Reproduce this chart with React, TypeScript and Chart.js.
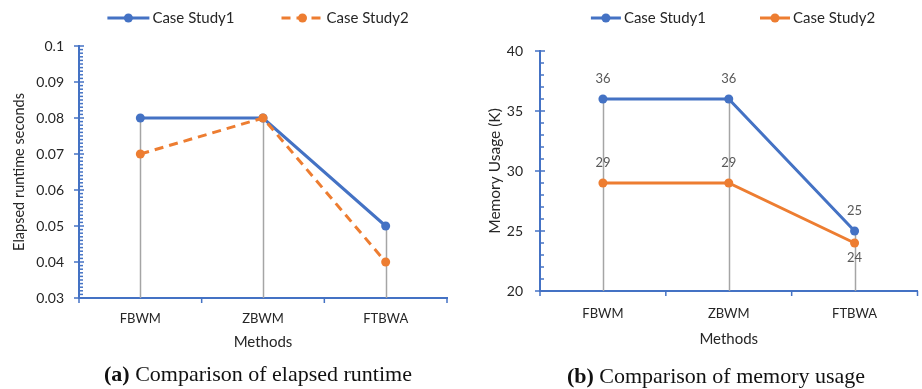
import React, { useEffect, useRef } from 'react';
import { Chart, registerables } from 'chart.js';

Chart.register(...registerables);
Chart.defaults.font.family = 'Lato';

// ---------- data ----------
const methods = ['FBWM', 'ZBWM', 'FTBWA'];
const seriesNames = ['Case Study1', 'Case Study2'];

const runtimeCase1 = [0.08, 0.08, 0.05];
const runtimeCase2 = [0.07, 0.08, 0.04];
const runtimeTicks = [0.03, 0.04, 0.05, 0.06, 0.07, 0.08, 0.09, 0.1];

const memoryCase1 = [36, 36, 25];
const memoryCase2 = [29, 29, 24];
const memoryTicks = [20, 25, 30, 35, 40];
const memoryLabelPos1 = ['top', 'top', 'top'];
const memoryLabelPos2 = ['top', 'top', 'bottom'];

const BLUE = '#4472C4';
const ORANGE = '#ED7D31';
const AXIS = '#4472C4';
const DROP = '#A5A5A5';
const TEXT = '#262626';

type Cfg = {
  width: number;
  height: number;
  series: { name: string; data: number[]; color: string; dash: number[] }[];
  ticks: number[];
  minorPerMajor: number;
  fmt: (v: number) => string;
  padding: { left: number; top: number; right: number };
  yWidth: number;
  xHeight: number;
  yTickPad: number;
  xTickPad: number;
  yTitle: string;
  yTitleX: number;
  yTitleSize: number;
  xTitle: string;
  xTitleY: number;
  legend: { centerX: number; y: number; lineLen: number; gap: number };
  dataLabels?: string[][];
};

function makePlugin(cfg: Cfg) {
  return {
    id: 'excelLook',
    beforeDatasetsDraw(chart: any) {
      const ctx = chart.ctx;
      const ca = chart.chartArea;
      ctx.save();
      ctx.strokeStyle = DROP;
      ctx.lineWidth = 1.5;
      const metas = cfg.series.map((_, i) => chart.getDatasetMeta(i));
      for (let j = 0; j < methods.length; j++) {
        let top = Infinity;
        let x = 0;
        metas.forEach((m: any) => {
          const p = m.data[j];
          if (p.y < top) top = p.y;
          x = p.x;
        });
        ctx.beginPath();
        ctx.moveTo(Math.round(x) + 0.5, top);
        ctx.lineTo(Math.round(x) + 0.5, ca.bottom);
        ctx.stroke();
      }
      ctx.restore();
    },
    afterDraw(chart: any) {
      const ctx = chart.ctx;
      const ca = chart.chartArea;
      const xs = chart.scales.x;
      const ys = chart.scales.y;
      ctx.save();
      // y ticks (major + minor)
      ctx.strokeStyle = AXIS;
      ctx.lineWidth = 1.5;
      const t = cfg.ticks;
      for (let a = 0; a < t.length; a++) {
        const yMaj = ys.getPixelForValue(t[a]);
        ctx.beginPath();
        ctx.moveTo(ca.left - 5, yMaj);
        ctx.lineTo(ca.left + 5, yMaj);
        ctx.stroke();
        if (a < t.length - 1) {
          for (let k = 1; k < cfg.minorPerMajor; k++) {
            const v = t[a] + ((t[a + 1] - t[a]) * k) / cfg.minorPerMajor;
            const y = ys.getPixelForValue(v);
            ctx.beginPath();
            ctx.moveTo(ca.left, y);
            ctx.lineTo(ca.left + 4, y);
            ctx.stroke();
          }
        }
      }
      // x ticks at category boundaries
      const n = methods.length;
      for (let k = 0; k <= n; k++) {
        const x = xs.left + (k * (xs.right - xs.left)) / n;
        ctx.beginPath();
        ctx.moveTo(x, ca.bottom);
        ctx.lineTo(x, ca.bottom + 5);
        ctx.stroke();
      }
      // axis titles
      ctx.fillStyle = TEXT;
      ctx.font = '15px Lato';
      ctx.textAlign = 'center';
      ctx.textBaseline = 'middle';
      ctx.fillText(cfg.xTitle, (ca.left + ca.right) / 2, cfg.xTitleY);
      ctx.save();
      ctx.font = cfg.yTitleSize + 'px Lato';
      ctx.translate(cfg.yTitleX, (ca.top + ca.bottom) / 2);
      ctx.rotate(-Math.PI / 2);
      ctx.fillText(cfg.yTitle, 0, 0);
      ctx.restore();
      // legend
      ctx.font = '15px Lato';
      const L = cfg.legend;
      const widths = cfg.series.map((s) => ctx.measureText(s.name).width);
      const total =
        widths.reduce((s, w) => s + w + L.lineLen + 3, 0) + L.gap * (cfg.series.length - 1);
      let x0 = L.centerX - total / 2;
      cfg.series.forEach((s, i) => {
        ctx.strokeStyle = s.color;
        ctx.fillStyle = s.color;
        ctx.lineWidth = 3;
        ctx.setLineDash(s.dash);
        ctx.beginPath();
        ctx.moveTo(x0, L.y);
        ctx.lineTo(x0 + L.lineLen, L.y);
        ctx.stroke();
        ctx.setLineDash([]);
        ctx.beginPath();
        ctx.arc(x0 + L.lineLen / 2, L.y, 4.5, 0, Math.PI * 2);
        ctx.fill();
        ctx.fillStyle = TEXT;
        ctx.textAlign = 'left';
        ctx.fillText(s.name, x0 + L.lineLen + 3, L.y);
        x0 += L.lineLen + 3 + widths[i] + L.gap;
      });
      // data labels
      if (cfg.dataLabels) {
        ctx.font = '13px Lato';
        ctx.fillStyle = '#595959';
        ctx.textAlign = 'center';
        cfg.series.forEach((s, i) => {
          const meta = chart.getDatasetMeta(i);
          s.data.forEach((v, j) => {
            const p = meta.data[j];
            const pos = cfg.dataLabels![i][j];
            const y = pos === 'top' ? p.y - 20 : p.y + 15;
            ctx.fillText(String(v), p.x, y);
          });
        });
      }
      ctx.restore();
    },
  };
}

function LineChart({ cfg }: { cfg: Cfg }) {
  const ref = useRef<HTMLCanvasElement | null>(null);
  useEffect(() => {
    if (!ref.current) return;
    const chart = new Chart(ref.current, {
      type: 'line',
      data: {
        labels: methods,
        datasets: cfg.series.map((s, i) => ({
          label: s.name,
          data: s.data,
          borderColor: s.color,
          backgroundColor: s.color,
          borderWidth: 3,
          borderDash: s.dash,
          pointRadius: 4.5,
          pointBorderWidth: 0,
          pointBackgroundColor: s.color,
          tension: 0,
          clip: false as any,
          order: cfg.series.length - i,
        })),
      },
      options: {
        responsive: false,
        animation: false,
        devicePixelRatio: 1,
        layout: { padding: { left: cfg.padding.left, top: cfg.padding.top, right: cfg.padding.right, bottom: 0 } },
        plugins: { legend: { display: false }, tooltip: { enabled: false } },
        scales: {
          x: {
            offset: true,
            grid: { display: false, drawTicks: false },
            border: { display: true, color: AXIS, width: 2 },
            ticks: { color: TEXT, font: { size: 13 }, padding: cfg.xTickPad, maxRotation: 0 },
            afterFit: (s: any) => {
              s.height = cfg.xHeight;
            },
          },
          y: {
            min: cfg.ticks[0],
            max: cfg.ticks[cfg.ticks.length - 1],
            afterBuildTicks: (s: any) => {
              s.ticks = cfg.ticks.map((v) => ({ value: v }));
            },
            grid: { display: false, drawTicks: false },
            border: { display: true, color: AXIS, width: 2 },
            ticks: {
              color: TEXT,
              font: { size: 14 },
              padding: cfg.yTickPad,
              callback: (v: any) => cfg.fmt(Number(v)),
            },
            afterFit: (s: any) => {
              s.width = cfg.yWidth;
            },
          },
        },
      },
      plugins: [makePlugin(cfg)],
    });
    return () => chart.destroy();
  }, [cfg]);
  return <canvas ref={ref} width={cfg.width} height={cfg.height} style={{ display: 'block' }} />;
}

const runtimeCfg: Cfg = {
  width: 460,
  height: 389,
  series: [
    { name: seriesNames[0], data: runtimeCase1, color: BLUE, dash: [] },
    { name: seriesNames[1], data: runtimeCase2, color: ORANGE, dash: [9, 6] },
  ],
  ticks: runtimeTicks,
  minorPerMajor: 10,
  fmt: (v) => String(Number(v.toFixed(2))),
  padding: { left: 0, top: 46, right: 13 },
  yWidth: 79,
  xHeight: 389 - 298,
  yTickPad: 15,
  xTickPad: 13,
  yTitle: 'Elapsed runtime seconds',
  yTitleX: 19,
  yTitleSize: 14.5,
  xTitle: 'Methods',
  xTitleY: 342,
  legend: { centerX: 258, y: 18, lineLen: 42, gap: 47 },
};

const memoryCfg: Cfg = {
  width: 462,
  height: 389,
  series: [
    { name: seriesNames[0], data: memoryCase1, color: BLUE, dash: [] },
    { name: seriesNames[1], data: memoryCase2, color: ORANGE, dash: [] },
  ],
  ticks: memoryTicks,
  minorPerMajor: 5,
  fmt: (v) => String(v),
  padding: { left: 0, top: 51, right: 1 },
  yWidth: 80,
  xHeight: 389 - 291,
  yTickPad: 17,
  xTickPad: 15,
  yTitle: 'Memory Usage (K)',
  yTitleX: 35,
  yTitleSize: 15.5,
  xTitle: 'Methods',
  xTitleY: 339,
  legend: { centerX: 273, y: 18, lineLen: 30, gap: 54 },
  dataLabels: [memoryLabelPos1, memoryLabelPos2],
};

const captionStyle: React.CSSProperties = {
  position: 'absolute',
  fontFamily: '"Liberation Serif", "Times New Roman", serif',
  fontSize: 22,
  lineHeight: '26px',
  color: '#111',
  textAlign: 'center',
  whiteSpace: 'nowrap',
};

export default function App() {
  return (
    <div style={{ position: 'absolute', left: 0, top: 0, width: 922, height: 389, background: '#fff', overflow: 'hidden' }}>
      <div style={{ position: 'absolute', left: 0, top: 0 }}>
        <LineChart cfg={runtimeCfg} />
      </div>
      <div style={{ position: 'absolute', left: 460, top: 0 }}>
        <LineChart cfg={memoryCfg} />
      </div>
      <div style={{ ...captionStyle, left: 0, width: 516, top: 361 }}>
        <b>(a)</b> Comparison of elapsed runtime
      </div>
      <div style={{ ...captionStyle, left: 460, width: 512, top: 363 }}>
        <b>(b)</b> Comparison of memory usage
      </div>
    </div>
  );
}
